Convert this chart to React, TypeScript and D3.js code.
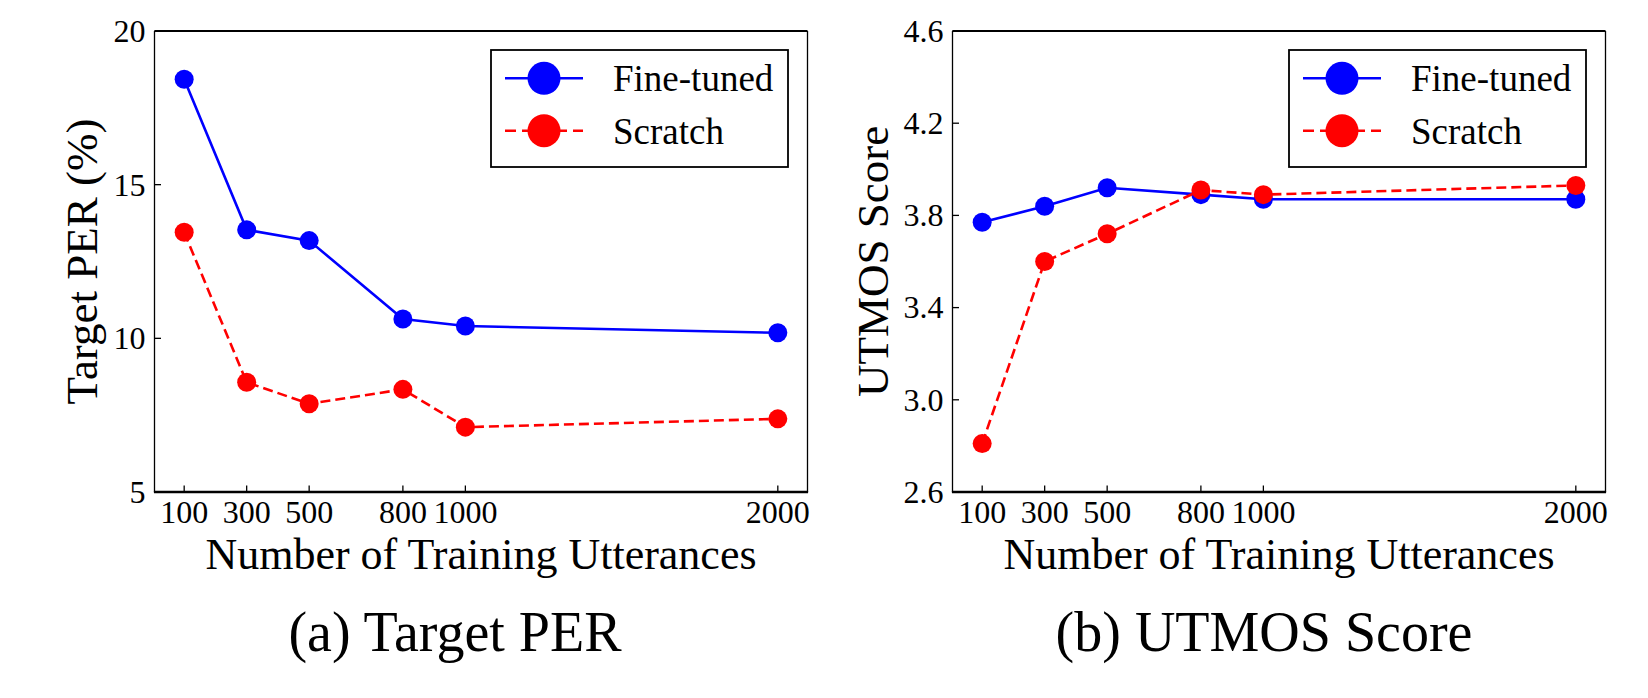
import React, { useEffect, useRef } from "react";
import * as d3 from "d3";

const utterances = [100, 300, 500, 800, 1000, 2000];
const perFineTuned = [18.43, 13.53, 13.18, 10.63, 10.4, 10.18];
const perScratch = [13.45, 8.57, 7.87, 8.34, 7.11, 7.38];
const utmosFineTuned = [3.77, 3.84, 3.92, 3.89, 3.87, 3.87];
const utmosScratch = [2.81, 3.6, 3.72, 3.91, 3.89, 3.93];
const perTicks = [5, 10, 15, 20];
const utmosTicks = [2.6, 3.0, 3.4, 3.8, 4.2, 4.6];
const seriesNames = ["Fine-tuned", "Scratch"];

const FONT = "'Liberation Serif', 'Times New Roman', serif";
const TOP = 31;
const BOTTOM = 492;

interface IPanel {
  left: number;
  right: number;
  yDomain: [number, number];
  yTicks: number[];
  yFormat: (v: number) => string;
  fine: number[];
  scratch: number[];
  yLabel: string;
  yLabelX: number;
  caption: string;
  captionX: number;
}

const panels: IPanel[] = [
  {
    left: 154.5,
    right: 807.5,
    yDomain: [5, 20],
    yTicks: perTicks,
    yFormat: d3.format("d"),
    fine: perFineTuned,
    scratch: perScratch,
    yLabel: "Target PER (%)",
    yLabelX: 97,
    caption: "(a) Target PER",
    captionX: 455,
  },
  {
    left: 952.5,
    right: 1605.5,
    yDomain: [2.6, 4.6],
    yTicks: utmosTicks,
    yFormat: d3.format(".1f"),
    fine: utmosFineTuned,
    scratch: utmosScratch,
    yLabel: "UTMOS Score",
    yLabelX: 888,
    caption: "(b) UTMOS Score",
    captionX: 1264,
  },
];

const App = () => {
  const ref = useRef<SVGSVGElement>(null);

  useEffect(() => {
    document.body.style.margin = "0";
    draw();
  }, []);

  const draw = () => {
    const svg = d3.select(ref.current);
    svg.selectAll("*").remove();

    panels.forEach((p) => {
      const g = svg.append("g");
      const x = d3.scaleLinear().domain([5, 2095]).range([p.left, p.right]);
      const y = d3.scaleLinear().domain(p.yDomain).range([BOTTOM, TOP]);

      // frame: horizontal spines render heavier than vertical ones
      g.append("line")
        .attr("x1", p.left).attr("x2", p.right)
        .attr("y1", TOP).attr("y2", TOP)
        .attr("stroke", "#000").attr("stroke-width", 2);
      g.append("line")
        .attr("x1", p.left - 0.6).attr("x2", p.right + 0.6)
        .attr("y1", BOTTOM).attr("y2", BOTTOM)
        .attr("stroke", "#000").attr("stroke-width", 2.4);
      [p.left, p.right].forEach((xx) => {
        g.append("line")
          .attr("x1", xx).attr("x2", xx)
          .attr("y1", TOP).attr("y2", BOTTOM)
          .attr("stroke", "#000").attr("stroke-width", 1.3);
      });

      // x ticks point inward
      utterances.forEach((u) => {
        g.append("line")
          .attr("x1", x(u)).attr("x2", x(u))
          .attr("y1", BOTTOM).attr("y2", BOTTOM - 6.5)
          .attr("stroke", "#000").attr("stroke-width", 1.3);
        g.append("text")
          .attr("x", x(u))
          .attr("y", 523)
          .attr("text-anchor", "middle")
          .style("font-family", FONT)
          .style("font-size", "32px")
          .text(u);
      });

      p.yTicks.forEach((t) => {
        g.append("line")
          .attr("x1", p.left).attr("x2", p.left + 6.5)
          .attr("y1", y(t)).attr("y2", y(t))
          .attr("stroke", "#000").attr("stroke-width", 1.3);
        g.append("text")
          .attr("x", p.left - 9)
          .attr("y", y(t))
          .attr("dy", "0.34em")
          .attr("text-anchor", "end")
          .style("font-family", FONT)
          .style("font-size", "32px")
          .text(p.yFormat(t));
      });

      // Add X axis label:
      g.append("text")
        .attr("text-anchor", "middle")
        .attr("x", (p.left + p.right) / 2)
        .attr("y", 569)
        .style("font-family", FONT)
        .style("font-size", "44px")
        .text("Number of Training Utterances");

      // Y axis label:
      g.append("text")
        .attr("text-anchor", "middle")
        .attr("transform", `translate(${p.yLabelX},${(TOP + BOTTOM) / 2}) rotate(-90)`)
        .style("font-family", FONT)
        .style("font-size", "45px")
        .text(p.yLabel);

      // caption under each panel
      g.append("text")
        .attr("text-anchor", "middle")
        .attr("x", p.captionX)
        .attr("y", 651)
        .style("font-family", FONT)
        .style("font-size", "56px")
        .text(p.caption);

      const line = d3
        .line<number>()
        .x((_, i) => x(utterances[i]))
        .y((d) => y(d));

      const series = [
        { values: p.fine, color: "#0000ff", dash: null },
        { values: p.scratch, color: "#ff0000", dash: "10,5" },
      ];

      series.forEach((s) => {
        g.append("path")
          .attr("d", line(s.values))
          .attr("fill", "none")
          .attr("stroke", s.color)
          .attr("stroke-width", 2.6)
          .attr("stroke-dasharray", s.dash);
        g.append("g")
          .selectAll("circle")
          .data(s.values)
          .enter()
          .append("circle")
          .attr("cx", (_, i) => x(utterances[i]))
          .attr("cy", (d) => y(d))
          .attr("r", 9.5)
          .style("fill", s.color);
      });

      // legend
      const lx = p.right - 316.5;
      const ly = 50;
      g.append("rect")
        .attr("x", lx).attr("y", ly)
        .attr("width", 297).attr("height", 117)
        .attr("fill", "#fff")
        .attr("stroke", "#000").attr("stroke-width", 1.8);
      series.forEach((s, i) => {
        const ry = ly + 28.3 + i * 52.4;
        g.append("line")
          .attr("x1", lx + 14).attr("x2", lx + 92)
          .attr("y1", ry).attr("y2", ry)
          .attr("stroke", s.color)
          .attr("stroke-width", 2.6)
          .attr("stroke-dasharray", s.dash ? "11,6" : null);
        g.append("circle")
          .attr("cx", lx + 53)
          .attr("cy", ry)
          .attr("r", 16.5)
          .style("fill", s.color);
        g.append("text")
          .attr("x", lx + 122)
          .attr("y", ry + 13)
          .style("font-family", FONT)
          .style("font-size", "37px")
          .text(seriesNames[i]);
      });
    });
  };

  return <svg ref={ref} width={1648} height={698} style={{ display: "block", background: "#fff" }} />;
};

export default App;
